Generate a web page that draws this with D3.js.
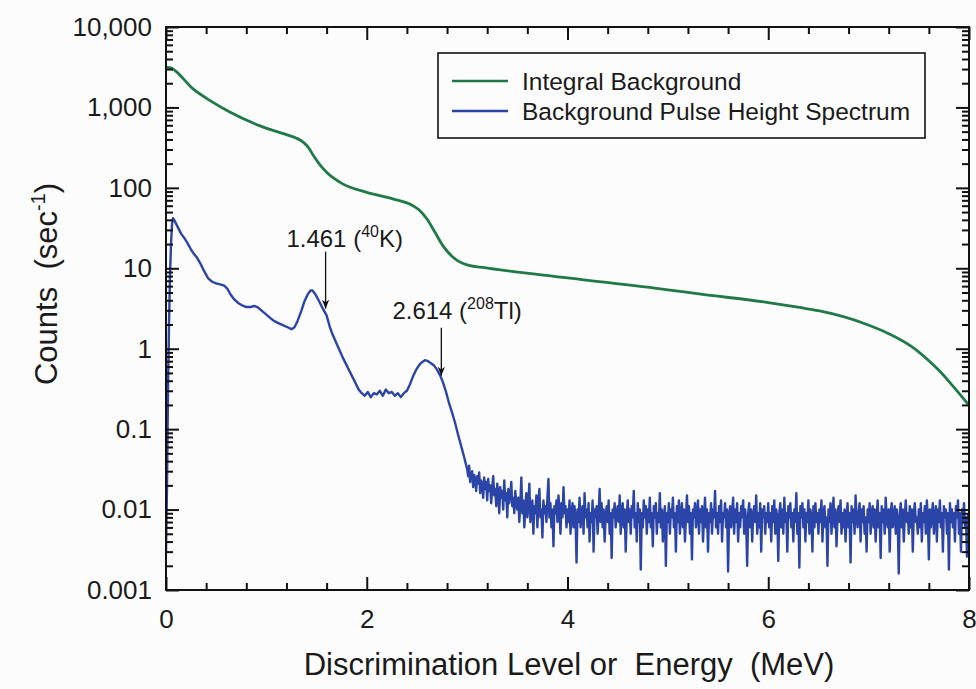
<!DOCTYPE html>
<html lang="en">
<head>
  <meta charset="UTF-8">
  <title>Background spectrum</title>
  <script src="https://d3js.org/d3.v7.min.js"></script>
  <style>
    body { margin: 0; background: #fdfcfc; }
    svg { display: block; font-family: "Liberation Sans", Arial, sans-serif; }
    text { fill: #1a1a1a; }
  </style>
</head>
<body>
  <svg width="976" height="689"></svg>
  <script>
    // integral background (counts/sec above discrimination level)
    const integralE = [0.01, 0.05, 0.09, 0.27, 0.44, 0.64, 0.93, 1.23, 1.30, 1.37, 1.42, 1.47, 1.53, 1.60, 1.76, 2.00,
      2.26, 2.46, 2.53, 2.60, 2.68, 2.76, 2.86, 3.00, 3.22, 4.00, 5.00, 5.31, 6.00, 6.31, 6.50, 6.97, 7.20,
      7.44, 7.60, 7.70, 7.87, 7.99];
    const integralCounts = [3150, 3100, 2870, 1700, 1215, 870, 594, 446, 415, 368, 316, 251, 196, 156, 112, 88,
      73, 60, 52, 41, 28, 19, 13.7, 11, 10, 7.6, 5.4, 4.8, 3.75, 3.26, 2.97, 2.03, 1.54,
      1.04, 0.71, 0.54, 0.31, 0.205];

    // pulse height spectrum, low energy part
    const phsE = [0.00, 0.01, 0.02, 0.03, 0.04, 0.05, 0.06, 0.07, 0.09, 0.12, 0.15, 0.18, 0.21, 0.25,
      0.28, 0.31, 0.35, 0.38, 0.42, 0.46, 0.50, 0.54, 0.58, 0.61, 0.64, 0.68, 0.72, 0.76, 0.80, 0.84,
      0.88, 0.91, 0.95, 1.00, 1.04, 1.08, 1.13, 1.17, 1.21, 1.25, 1.28, 1.31, 1.35, 1.38, 1.41, 1.44,
      1.46, 1.49, 1.52, 1.56, 1.60, 1.63, 1.66, 1.70, 1.73, 1.76, 1.80, 1.83, 1.86, 1.89, 1.92, 1.95,
      1.98, 2.01, 2.04, 2.07, 2.10, 2.13, 2.16, 2.19, 2.22, 2.25, 2.28, 2.31, 2.34, 2.37, 2.40, 2.43,
      2.46, 2.49, 2.52, 2.55, 2.58, 2.61, 2.64, 2.67, 2.70, 2.73, 2.76, 2.79, 2.82, 2.85, 2.88, 2.91,
      2.94, 2.97];
    const phsCounts = [0.003, 0.02, 0.3, 2, 8, 20, 35, 42, 38, 32, 27, 24, 21, 17,
      15, 13.5, 11, 9.2, 7.5, 6.8, 6.5, 6.3, 6.1, 5.6, 4.8, 4.1, 3.7, 3.45, 3.3, 3.3,
      3.4, 3.3, 3.0, 2.65, 2.4, 2.2, 2.05, 1.95, 1.85, 1.75, 1.85, 2.2, 3.0, 3.9, 4.7, 5.3,
      5.3, 4.7, 4.0, 3.2, 2.6, 1.9, 1.5, 1.15, 0.95, 0.78, 0.62, 0.52, 0.44, 0.37, 0.31, 0.28,
      0.26, 0.29, 0.25, 0.28, 0.27, 0.30, 0.26, 0.31, 0.28, 0.29, 0.26, 0.28, 0.25, 0.28, 0.30, 0.36,
      0.45, 0.54, 0.62, 0.68, 0.72, 0.70, 0.66, 0.62, 0.55, 0.47, 0.38, 0.29, 0.21, 0.16, 0.12, 0.085,
      0.062, 0.045];

    // pulse height spectrum, noisy tail from 3.00 MeV in 0.01 MeV channels (units of 0.001 counts/sec)
    const tailStartE = 3.00;
    const tailStepE = 0.01;
    const tailMilli = [
      32,26,35,22,28,30,19,27,24,17,26,21,29,16,23,20,14,25,18,22,13,24,17,20,12,19,26,15,18,11,21,16,9,19,14,17,10,23,13,16,8,18,12,15,22,11,14,9,17,12,
      10,14,7,12,25,9,13,6,11,16,8,12,21,7,10,13,5,11,9,15,6,12,18,8,10,4.5,13,9,11,7,14,24,8,12,6,10,3.5,11,9,13,7,15,10,5,12,8,19,9,11,6,
      10,7,13,5,9,12,6,11,8,2.2,10,7,14,6,9,11,5,16,8,10,6,12,4,9,7,13,3,10,8,11,5,9,18,7,12,6,10,4,8,11,7,13,5,9,2.5,10,8,12,6,9,
      11,7,15,5,9,12,6,10,3,8,13,7,10,5,11,8,17,6,9,4,12,7,10,1.8,9,6,13,8,11,5,10,7,14,6,9,3.5,11,8,12,5,9,7,16,6,10,4,8,11,2,9,
      7,12,5,10,8,14,6,9,3,11,7,13,5,9,12,6,10,4,8,15,7,11,5,9,2.4,10,8,12,6,9,13,5,10,7,11,4,8,14,6,10,3,9,7,12,5,10,8,17,6,9,
      5,11,7,13,4,9,8,12,6,10,1.7,8,11,6,9,14,5,10,7,12,4,9,6,11,8,13,5,10,7,2,9,12,6,10,4,8,11,7,15,5,9,6,12,3,10,8,11,5,9,7,
      12,6,9,4,11,7,13,5,10,8,2.3,9,12,6,10,5,14,7,9,3,11,8,12,6,9,4,10,7,16,5,9,1.9,11,8,12,6,10,4,9,7,13,5,10,8,3,11,6,12,7,9,
      5,10,7,13,4,9,11,6,8,2,10,7,12,5,9,14,6,10,3.5,8,11,7,13,5,9,6,10,4,8,12,6,9,2.2,11,7,10,5,15,8,6,9,12,4,10,7,11,5,8,3,10,
      7,12,5,9,11,6,10,4,8,13,6,9,2.5,11,7,10,5,14,8,6,10,3,9,12,6,8,11,5,10,7,1.6,9,12,6,10,4,8,13,7,9,5,11,6,10,3,9,12,7,8,5,
      10,6,12,4,9,7,11,5,13,8,2.4,10,6,9,12,5,8,11,4,10,7,13,6,9,3,11,8,10,5,9,1.8,12,7,10,6,9,4,11,8,13,5,9,3,10,7,12,6,8,2.6,9
    ];

    const xTickValues = [0, 2, 4, 6, 8];
    const yTickValues = [0.001, 0.01, 0.1, 1, 10, 100, 1000, 10000];

    const svg = d3.select("svg"),
          width = +svg.attr("width"),
          height = +svg.attr("height");
    const margin = { top: 27, right: 7, bottom: 99, left: 166 };
    const iw = width - margin.left - margin.right,
          ih = height - margin.top - margin.bottom;

    const x = d3.scaleLinear().domain([0, 8]).range([0, iw]);
    const y = d3.scaleLog().domain([0.001, 10000]).range([ih, 0]);

    const g = svg.append("g").attr("transform", `translate(${margin.left},${margin.top})`);

    svg.append("defs").append("clipPath").attr("id", "plot")
      .append("rect").attr("width", iw).attr("height", ih);

    svg.select("defs").append("marker")
      .attr("id", "arrow").attr("viewBox", "0 0 10 10")
      .attr("refX", 10).attr("refY", 5)
      .attr("markerWidth", 11).attr("markerHeight", 9)
      .attr("markerUnits", "userSpaceOnUse")
      .attr("orient", "auto")
      .append("path").attr("d", "M0,1 L10,5 L0,9 L3,5 Z").attr("fill", "#111");

    // data series
    const integral = integralE.map((e, i) => [e, integralCounts[i]]);
    const spectrum = phsE.map((e, i) => [e, phsCounts[i]])
      .concat(tailMilli.map((v, i) => [tailStartE + i * tailStepE, v / 1000]));

    const line = d3.line().x(d => x(d[0])).y(d => y(d[1]));

    const plot = g.append("g").attr("clip-path", "url(#plot)");

    plot.append("path")
      .datum(spectrum)
      .attr("fill", "none")
      .attr("stroke", "#2b44a8")
      .attr("stroke-width", 2.4)
      .attr("stroke-linejoin", "round")
      .attr("d", line);

    plot.append("path")
      .datum(integral)
      .attr("fill", "none")
      .attr("stroke", "#1f7a48")
      .attr("stroke-width", 2.8)
      .attr("d", line.curve(d3.curveMonotoneX));

    // axes: ticks point inward on all four sides
    const minorY = [];
    yTickValues.slice(0, -1).forEach(v => { for (let k = 2; k <= 9; k++) minorY.push(v * k); });
    const minorX = d3.range(0, 8.001, 0.4).filter(v => Math.abs(v / 2 - Math.round(v / 2)) > 1e-6);

    const yFmt = v => v >= 1 ? d3.format(",")(v) : String(v);

    const addAxis = (axis, transform, cls) => {
      const a = g.append("g").attr("class", cls).attr("transform", transform).call(axis);
      a.select(".domain").remove();
      a.selectAll(".tick line").attr("stroke", "#111").attr("stroke-width", 2);
      a.selectAll("text").style("font-size", "26px").attr("fill", "#1a1a1a");
      return a;
    };

    addAxis(d3.axisLeft(y).tickValues(yTickValues).tickFormat(yFmt).tickSizeInner(-13).tickSizeOuter(0).tickPadding(14), null, "y-major");
    addAxis(d3.axisLeft(y).tickValues(minorY).tickFormat("").tickSizeInner(-7).tickSizeOuter(0), null, "y-minor");
    addAxis(d3.axisRight(y).tickValues(yTickValues).tickFormat("").tickSizeInner(-13).tickSizeOuter(0), `translate(${iw},0)`, "y2-major");
    addAxis(d3.axisRight(y).tickValues(minorY).tickFormat("").tickSizeInner(-7).tickSizeOuter(0), `translate(${iw},0)`, "y2-minor");

    addAxis(d3.axisBottom(x).tickValues(xTickValues).tickFormat(d3.format("d")).tickSizeInner(-13).tickSizeOuter(0).tickPadding(20), `translate(0,${ih})`, "x-major");
    addAxis(d3.axisBottom(x).tickValues(minorX).tickFormat("").tickSizeInner(-7).tickSizeOuter(0), `translate(0,${ih})`, "x-minor");
    addAxis(d3.axisTop(x).tickValues(xTickValues).tickFormat("").tickSizeInner(-13).tickSizeOuter(0), null, "x2-major");
    addAxis(d3.axisTop(x).tickValues(minorX).tickFormat("").tickSizeInner(-7).tickSizeOuter(0), null, "x2-minor");

    g.append("rect")
      .attr("width", iw).attr("height", ih)
      .attr("fill", "none").attr("stroke", "#111").attr("stroke-width", 2);

    // axis titles
    svg.append("text")
      .attr("transform", "translate(57,284) rotate(-90)")
      .attr("text-anchor", "middle")
      .style("font-size", "31px").style("white-space", "pre")
      .call(t => {
        t.append("tspan").text("Counts  (sec");
        t.append("tspan").attr("dy", -12).style("font-size", "20px").text("-1");
        t.append("tspan").attr("dy", 12).text(")");
      });

    svg.append("text")
      .attr("x", 569)
      .attr("y", 675)
      .attr("text-anchor", "middle")
      .style("font-size", "31px").style("white-space", "pre")
      .text("Discrimination Level or  Energy  (MeV)");

    // peak annotations
    const peaks = [
      { label: "1.461 (", iso: "40", el: "K)", textE: 1.78, textC: 18.3, arrowE: 1.59, fromC: 16.1, toC: 3.15 },
      { label: "2.614 (", iso: "208", el: "Tl)", textE: 2.90, textC: 2.36, arrowE: 2.743, fromC: 1.82, toC: 0.46 }
    ];

    peaks.forEach(p => {
      g.append("line")
        .attr("x1", x(p.arrowE)).attr("x2", x(p.arrowE))
        .attr("y1", y(p.fromC)).attr("y2", y(p.toC))
        .attr("stroke", "#111").attr("stroke-width", 1.3)
        .attr("marker-end", "url(#arrow)");
      const t = g.append("text")
        .attr("x", x(p.textE)).attr("y", y(p.textC))
        .attr("text-anchor", "middle")
        .style("font-size", "24px");
      t.append("tspan").text(p.label);
      t.append("tspan").attr("dy", -10).style("font-size", "16px").text(p.iso);
      t.append("tspan").attr("dy", 10).text(p.el);
    });

    // legend
    const legend = svg.append("g").attr("transform", "translate(438,53)");
    legend.append("rect")
      .attr("width", 487).attr("height", 85)
      .attr("fill", "#fdfcfc").attr("stroke", "#111").attr("stroke-width", 1.6);
    const items = [
      { name: "Integral Background", color: "#1f7a48" },
      { name: "Background Pulse Height Spectrum", color: "#2b44a8" }
    ];
    items.forEach((it, i) => {
      const ly = 28 + i * 30;
      legend.append("line")
        .attr("x1", 14).attr("x2", 70).attr("y1", ly).attr("y2", ly)
        .attr("stroke", it.color).attr("stroke-width", 2.5);
      legend.append("text")
        .attr("x", 84).attr("y", ly).attr("dy", "0.35em")
        .style("font-size", "24.5px")
        .text(it.name);
    });
  </script>
</body>
</html>
